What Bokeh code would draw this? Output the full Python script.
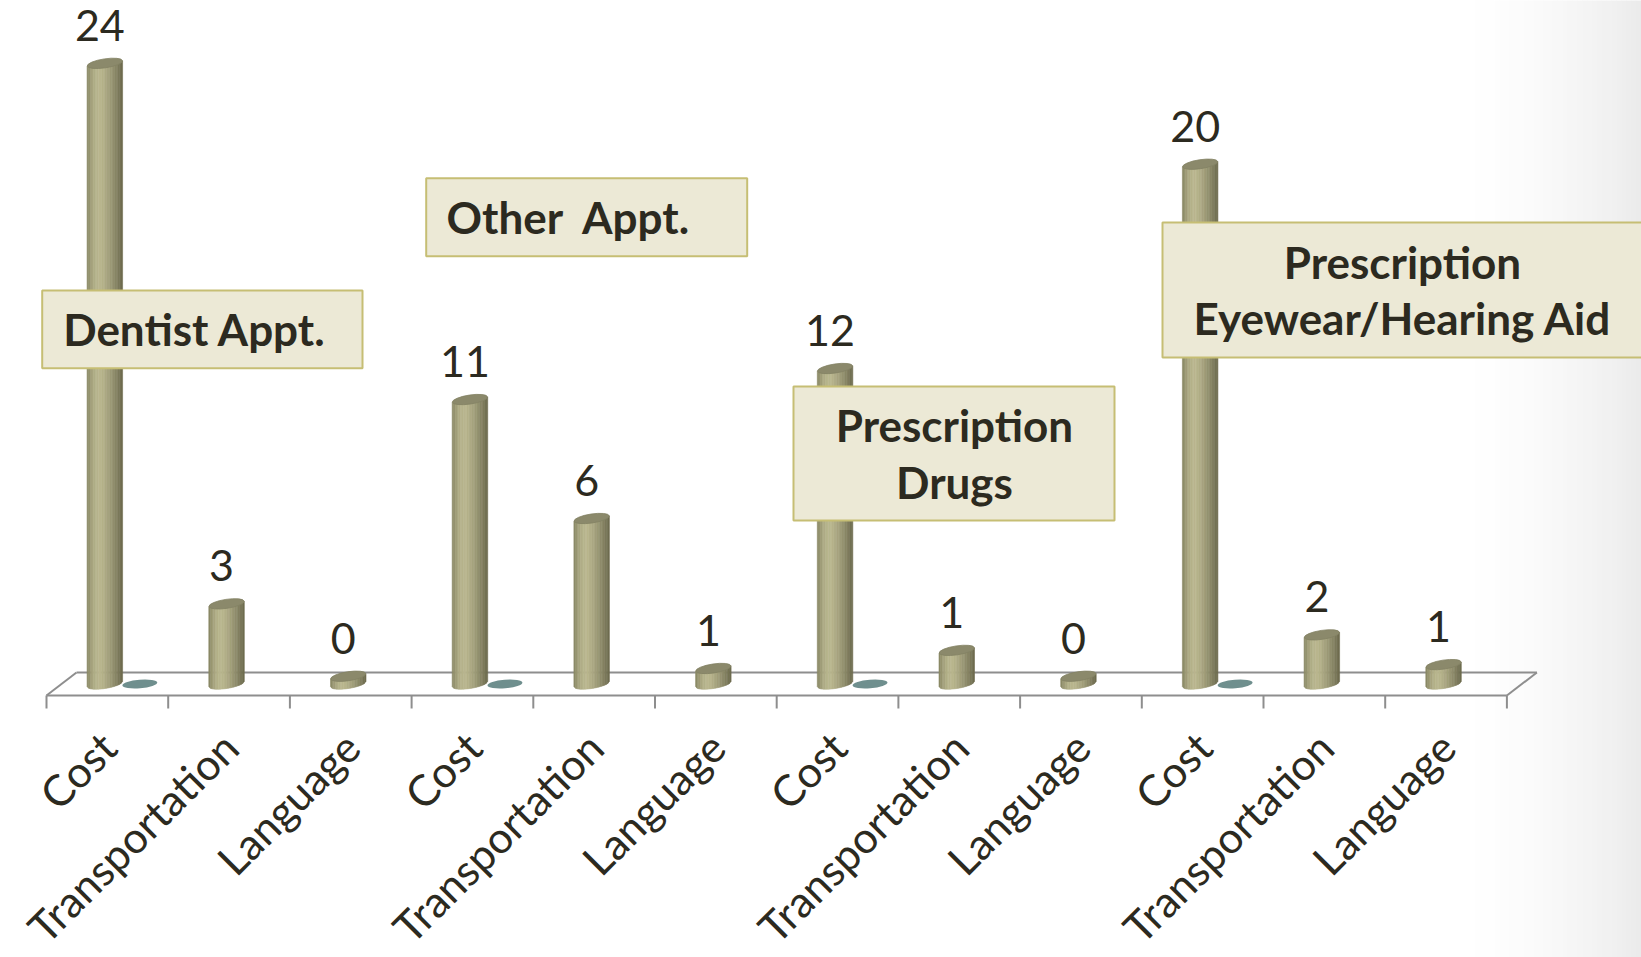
import math
from bokeh.plotting import figure
from bokeh.models import Range1d
from bokeh.core.properties import value
from bokeh.embed import file_html
from bokeh.resources import INLINE

# ---------------- data ----------------
categories = ["Cost", "Transportation", "Language",
              "Cost", "Transportation", "Language",
              "Cost", "Transportation", "Language",
              "Cost", "Transportation", "Language"]
# bar heights
bar_values = [24.0, 3.1, 0.3, 11.0, 6.4, 0.6, 12.2, 1.3, 0.3, 20.1, 1.9, 0.75]
# printed data labels
label_values = [24, 3, 0, 11, 6, 1, 12, 1, 0, 20, 2, 1]
# second (empty) series: zero at the Cost categories, blank elsewhere
second_series = [0, None, None, 0, None, None, 0, None, None, 0, None, None]
group_titles = ["Dentist Appt.", "Other\u00a0\u00a0Appt.",
                "Prescription\nDrugs", "Prescription\nEyewear/Hearing Aid"]

# ---------------- geometry (page pixels -> data) ----------------
W, H, OFF = 1641, 957, 0
X0_PX, CAT_PX = 46.0, 121.7        # front-left floor corner, category width
BASE_PX, UNIT_PX = 683.5, 25.86    # base line (mid depth), pixels per unit
TXT_SHIFT = 17                      # baseline correction for the svg text renderer

def dx(px):
    return px / CAT_PX

def dy(px):
    return px / UNIT_PX

def X(page_x):
    return (page_x - X0_PX) / CAT_PX

def Y(page_y):
    return (BASE_PX - page_y) / UNIT_PX

p = figure(width=W, height=H,
           x_range=Range1d(X(OFF), X(OFF + W)),
           y_range=Range1d(Y(OFF + H), Y(OFF)),
           output_backend="svg", toolbar_location=None,
           x_axis_location=None, y_axis_location=None, min_border=0)
p.grid.visible = False
p.outline_line_color = None
p.background_fill_color = "white"
p.border_fill_color = "white"

FONT = value("Lato")
TXT = "#2c2a20"

# ---------------- slide background shading at right ----------------
gx0, gx1, ns = 1450.0, 1645.0, 40
for k in range(ns):
    a = gx0 + (gx1 - gx0) * k / ns
    b = gx0 + (gx1 - gx0) * (k + 1) / ns
    t = ((k + 0.5) / ns) ** 1.8
    g = int(round(255 - 21 * t))
    c = "#%02x%02x%02x" % (g, g, g)
    p.quad(left=X(a), right=X(b) + dx(0.5), bottom=Y(H + 5), top=Y(-5),
           fill_color=c, line_color=None)

# ---------------- floor ----------------
n = len(categories)
depth_x = dx(30)
front_v, back_v = -dy(11.5), dy(11.5)
floor_col = "#8e8e8e"
p.line([0, n], [front_v, front_v], line_color=floor_col, line_width=2)
p.line([depth_x, n + depth_x], [back_v, back_v], line_color=floor_col, line_width=2)
p.line([0, depth_x], [front_v, back_v], line_color=floor_col, line_width=2)
p.line([n, n + depth_x], [front_v, back_v], line_color=floor_col, line_width=2)
ticks = list(range(n + 1))
p.segment(x0=ticks, y0=[front_v] * len(ticks), x1=ticks, y1=[front_v - dy(13)] * len(ticks),
          line_color=floor_col, line_width=2)

# ---------------- cylinders ----------------
R_PX, E_PX, TILT = 17.75, 9.0, 0.15
left_c, light_c, right_c = (0x86, 0x84, 0x62), (0xb9, 0xb6, 0x8e), (0x6a, 0x68, 0x4c)
PEAK = -0.3

def shade(u):
    if u < PEAK:
        t = math.sin((u + 1) / (PEAK + 1) * math.pi / 2)
        a, b = left_c, light_c
    else:
        t = ((u - PEAK) / (1 - PEAK)) ** 1.4
        a, b = light_c, right_c
    return "#%02x%02x%02x" % tuple(int(round(a[j] + (b[j] - a[j]) * t)) for j in range(3))

NSTRIP = 22
xs, ys, cols = [], [], []
tops_x, tops_y = [], []
for i, v in enumerate(bar_values):
    cx = i + 0.5 + depth_x / 2 - dx(17.5)
    tops_x.append(cx)
    tops_y.append(v)
    for k in range(NSTRIP):
        u0 = -1 + 2 * k / NSTRIP
        u1 = -1 + 2 * (k + 1) / NSTRIP
        um = (u0 + u1) / 2
        def bot(u):
            return dy(math.sin(TILT) * u * R_PX) - dy(E_PX / 2 * math.sqrt(max(0.0, 1 - u * u)))
        def top(u):
            return v + dy(math.sin(TILT) * u * R_PX)
        xs.append([cx + dx(u0 * R_PX), cx + dx(u1 * R_PX), cx + dx(u1 * R_PX), cx + dx(u0 * R_PX)])
        ys.append([bot(u0), bot(u1), top(u1), top(u0)])
        cols.append(shade(um))
p.patches(xs, ys, fill_color=cols, line_color=cols, line_width=0.6)
p.ellipse(x=tops_x, y=tops_y, width=2 * R_PX, height=E_PX, angle=TILT,
          width_units="screen", height_units="screen",
          fill_color="#8b896b", line_color="#838163", line_width=0.8)

# second series: flat discs
sx = [i + 0.5 + depth_x / 2 + dx(17.5) for i, s in enumerate(second_series) if s is not None]
sy = [s for s in second_series if s is not None]
p.ellipse(x=sx, y=sy, width=35, height=8.5, angle=0.08,
          width_units="screen", height_units="screen",
          fill_color="#6f8f8e", line_color=None)

# ---------------- data labels ----------------
p.text(x=[tx - dx(5) for tx in tops_x], y=[v + dy(22 + 16) for v in bar_values],
       text=[str(l) for l in label_values],
       text_align="center", text_baseline="alphabetic",
       text_font=FONT, text_font_size="43px", text_color=TXT)

# ---------------- category labels ----------------
p.text(x=[i + 0.5 + dx(1) for i in range(n)], y=[Y(739)] * n, text=categories,
       angle=math.pi / 4, text_align="right", text_baseline="middle",
       text_font=FONT, text_font_size="43px", text_color=TXT)

# ---------------- group title boxes ----------------
box_fill, box_line = "#ece9d6", "#c6be74"
boxes = [(41.7, 290, 362, 367.7), (425.7, 177.7, 746.7, 255.7),
         (793, 386, 1114, 520), (1162, 222, 1650, 357)]
for (l, t, r, b) in boxes:
    p.quad(left=X(l), right=X(r), top=Y(t), bottom=Y(b),
           fill_color=box_fill, line_color=box_line, line_width=2)

title_pos = [
    [(62.7, 345, "left")],
    [(446, 233, "left")],
    [(954, 441.7, "center"), (954, 498, "center")],
    [(1402, 278, "center"), (1402, 334.5, "center")],
]
for title, pos in zip(group_titles, title_pos):
    for line, (px_, py_, al) in zip(title.split("\n"), pos):
        p.text(x=[X(px_)], y=[Y(py_ - TXT_SHIFT)], text=[line], text_align=al,
               text_baseline="alphabetic", text_font=FONT, text_font_style="bold",
               text_font_size="44px", text_color=TXT)

open("out.html", "w").write(file_html(p, INLINE))
